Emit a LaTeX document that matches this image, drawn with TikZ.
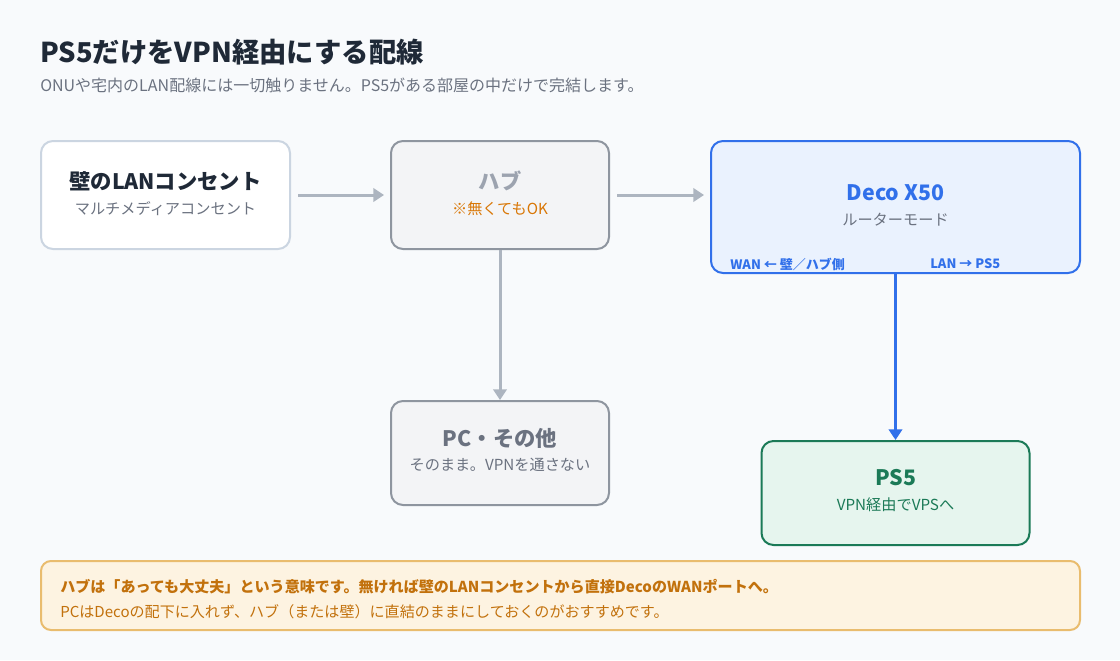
\documentclass[tikz,border=0pt]{standalone}
\usepackage{fontspec}
\setmainfont{Noto Sans CJK JP}
\usepackage{xcolor}
\usepackage{tikz}
\usetikzlibrary{arrows.meta, positioning}

\definecolor{pagebg}{HTML}{F8FAFC}
\definecolor{inkdark}{HTML}{1F2937}
\definecolor{inkgray}{HTML}{6B7280}
\definecolor{linegray}{HTML}{ADB5C0}
\definecolor{wallline}{HTML}{CBD5E1}
\definecolor{hubfill}{HTML}{F3F4F6}
\definecolor{hubline}{HTML}{8E959F}
\definecolor{hubtext}{HTML}{9CA3AF}
\definecolor{okorange}{HTML}{D97706}
\definecolor{decofill}{HTML}{EAF2FE}
\definecolor{decoblue}{HTML}{3170EA}
\definecolor{ps5fill}{HTML}{E6F5EE}
\definecolor{ps5green}{HTML}{1B7A57}
\definecolor{notefill}{HTML}{FDF3E1}
\definecolor{noteline}{HTML}{E9BC6E}
\definecolor{notetext}{HTML}{C2710C}

\begin{document}
\begin{tikzpicture}[x=0.75pt, y=-0.75pt,
  box/.style={draw, rounded corners=9pt, inner sep=0pt, line width=1.5pt},
  ttl/.style={font=\fontsize{16}{19}\selectfont\bfseries, inner sep=0pt},
  sub/.style={font=\fontsize{11.4}{14}\selectfont, inner sep=0pt},
  port/.style={font=\fontsize{9.75}{12}\selectfont\bfseries, inner sep=0pt,
               text=decoblue, anchor=west},
  conn/.style={-{Triangle[length=8pt, width=10pt]}, line width=2.25pt, draw=linegray}
]
  % Page
  \fill[pagebg] (0,0) rectangle (1120,660);
  \useasboundingbox (0,0) rectangle (1120,660);

  % Heading
  \node[anchor=west, inner sep=0pt, text=inkdark,
        font=\fontsize{20.5}{24}\selectfont\bfseries] (title) at (40,52)
    {PS5だけをVPN経由にする配線};
  \node[anchor=west, inner sep=0pt, text=inkgray,
        font=\fontsize{12}{15}\selectfont] (subtitle) at (40,85)
    {ONUや宅内のLAN配線には一切触りません。PS5がある部屋の中だけで完結します。};

  % Wall socket
  \node[box, fill=white, draw=wallline, minimum width=186.75pt, minimum height=81pt]
    (wall) at (165.5,195) {};
  \node[ttl, text=inkdark] (wallT) at (165.5,181) {壁のLANコンセント};
  \node[sub, text=inkgray] (wallS) at (165.5,209) {マルチメディアコンセント};

  % Hub
  \node[box, fill=hubfill, draw=hubline, minimum width=163.5pt, minimum height=81pt]
    (hub) at (500,195) {};
  \node[ttl, text=hubtext] (hubT) at (500,181) {ハブ};
  \node[sub, text=okorange] (hubS) at (500,209) {※無くてもOK};

  % Deco router
  \node[box, fill=decofill, draw=decoblue, minimum width=276.75pt, minimum height=99pt]
    (deco) at (895.5,207) {};
  \node[ttl, text=decoblue] (decoT) at (895.5,193) {Deco X50};
  \node[sub, text=inkgray] (decoS) at (895.5,220) {ルーターモード};
  \node[port] (wanP) at (730,264) {WAN ← 壁／ハブ側};
  \node[port] (lanP) at (930,264) {LAN → PS5};

  % PC and others
  \node[box, fill=hubfill, draw=hubline, minimum width=163.5pt, minimum height=78pt]
    (pc) at (500,453) {};
  \node[ttl, text=inkgray] (pcT) at (500,438) {PC・その他};
  \node[sub, text=inkgray] (pcS) at (500,465) {そのまま。VPNを通さない};

  % PS5
  \node[box, fill=ps5fill, draw=ps5green, minimum width=201pt, minimum height=78pt]
    (ps5) at (895.5,493) {};
  \node[ttl, text=ps5green] (ps5T) at (895.5,478) {PS5};
  \node[sub, text=ps5green] (ps5S) at (895.5,505) {VPN経由でVPSへ};

  % Wiring
  \draw[conn, shorten <=5.25pt, shorten >=4.5pt] (wall) -- (hub);
  \draw[conn, shorten <=5.25pt, shorten >=4.5pt] (hub.east) -- (hub.east -| deco.west);
  \draw[conn] (hub) -- (pc);
  \draw[conn, draw=decoblue, line width=2.6pt] (deco) -- (ps5);

  % Note
  \node[box, fill=notefill, draw=noteline, rounded corners=7.5pt,
        minimum width=779.25pt, minimum height=51.75pt] (note) at (560.5,595.5) {};
  \node[anchor=west, inner sep=0pt, text=notetext,
        font=\fontsize{11.3}{14}\selectfont\bfseries] (noteA) at (60,587)
    {ハブは「あっても大丈夫」という意味です。無ければ壁のLANコンセントから直接DecoのWANポートへ。};
  \node[anchor=west, inner sep=0pt, text=notetext,
        font=\fontsize{11.3}{14}\selectfont] (noteB) at (60,612)
    {PCはDecoの配下に入れず、ハブ（または壁）に直結のままにしておくのがおすすめです。};
\end{tikzpicture}
\end{document}
